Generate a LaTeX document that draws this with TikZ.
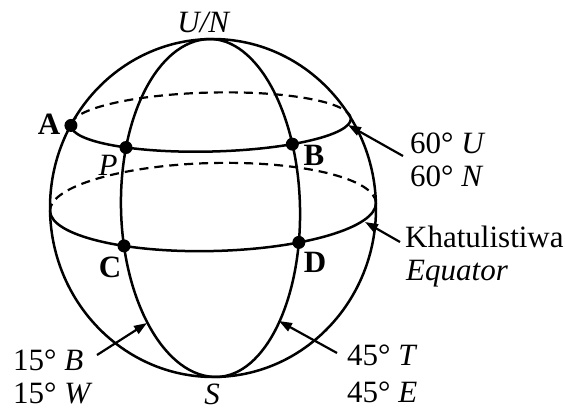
\documentclass[tikz,border=0pt]{standalone}
\usepackage{fontspec}
\setmainfont{Liberation Serif}
\usetikzlibrary{arrows.meta}
\begin{document}
\begin{tikzpicture}[x=1pt,y=1pt,
  line/.style={line width=2.5pt},
  back/.style={line width=2.2pt, dash pattern=on 9pt off 6pt},
  dot/.style={circle, fill=black, inner sep=0pt, minimum size=13pt},
  lbl/.style={inner sep=0pt, font=\fontsize{31}{33}\selectfont},
  arr/.style={line width=2.2pt, -{Triangle[length=13pt,width=9pt]}}]
\useasboundingbox (0,0) rectangle (565,-410);
\begin{scope}[shift={(213,-208)}, rotate=1.4]
  \draw[line] (0,0) ellipse [x radius=163, y radius=169];
  % 60 deg parallel
  \draw[back] (140,86) arc[start angle=0, end angle=180, x radius=140, y radius=29.5];
  \draw[line] (-140,86) arc[start angle=180, end angle=360, x radius=140, y radius=29.5];
  % equator
  \draw[back] (163,1) arc[start angle=0, end angle=180, x radius=163, y radius=44];
  \draw[line] (-163,1) arc[start angle=180, end angle=360, x radius=163, y radius=44];
  % meridians
  \draw[line] (0,169) arc[start angle=90, end angle=270, x radius=92, y radius=169];
  \draw[line] (0,169) arc[start angle=90, end angle=-90, x radius=87, y radius=169];
  % points
  \node[dot] (A) at (-140,86) {};
  \node[dot] (P) at (-85.5,62.6) {};
  \node[dot] (B) at (80.9,61.9) {};
  \node[dot] (C) at (-89.9,-35.7) {};
  \node[dot] (D) at (85.0,-36.5) {};
\end{scope}
% point labels
\node[lbl, anchor=base] (N) at (204,-32) {\textit{U/N}};
\node[lbl, anchor=base] (S) at (212,-404) {\textit{S}};
\node[lbl, anchor=base] (lA) at (49,-134) {\textbf{A}};
\node[lbl, anchor=base] (lP) at (108,-175) {\textit{P}};
\node[lbl, anchor=base] (lB) at (314,-165) {\textbf{B}};
\node[lbl, anchor=base] (lC) at (110,-277) {\textbf{C}};
\node[lbl, anchor=base] (lD) at (315,-272) {\textbf{D}};
% side labels
\node[lbl, anchor=base west] (u60) at (410,-153) {60°~\textit{U}};
\node[lbl, anchor=base west] (n60) at (410,-186) {60°~\textit{N}};
\node[lbl, anchor=base west] (kh) at (405,-247) {Khatulistiwa};
\node[lbl, anchor=base west] (eq) at (406,-280) {\textit{Equator}};
\node[lbl, anchor=base west] (b15) at (13,-370) {15°~\textit{B}};
\node[lbl, anchor=base west] (w15) at (13,-403) {15°~\textit{W}};
\node[lbl, anchor=base west] (t45) at (347,-365) {45°~\textit{T}};
\node[lbl, anchor=base west] (e45) at (347,-402) {45°~\textit{E}};
% arrows
\coordinate (a60s) at (403,-156);
\coordinate (a60e) at (348,-125);
\coordinate (aeqs) at (400,-242);
\coordinate (aeqe) at (365,-222);
\coordinate (a15s) at (97,-355);
\coordinate (a15e) at (147,-323);
\coordinate (a45s) at (337,-353);
\coordinate (a45e) at (279,-321);
\draw[arr] (a60s) -- (a60e);
\draw[arr] (aeqs) -- (aeqe);
\draw[arr] (a15s) -- (a15e);
\draw[arr] (a45s) -- (a45e);
\end{tikzpicture}
\end{document}
